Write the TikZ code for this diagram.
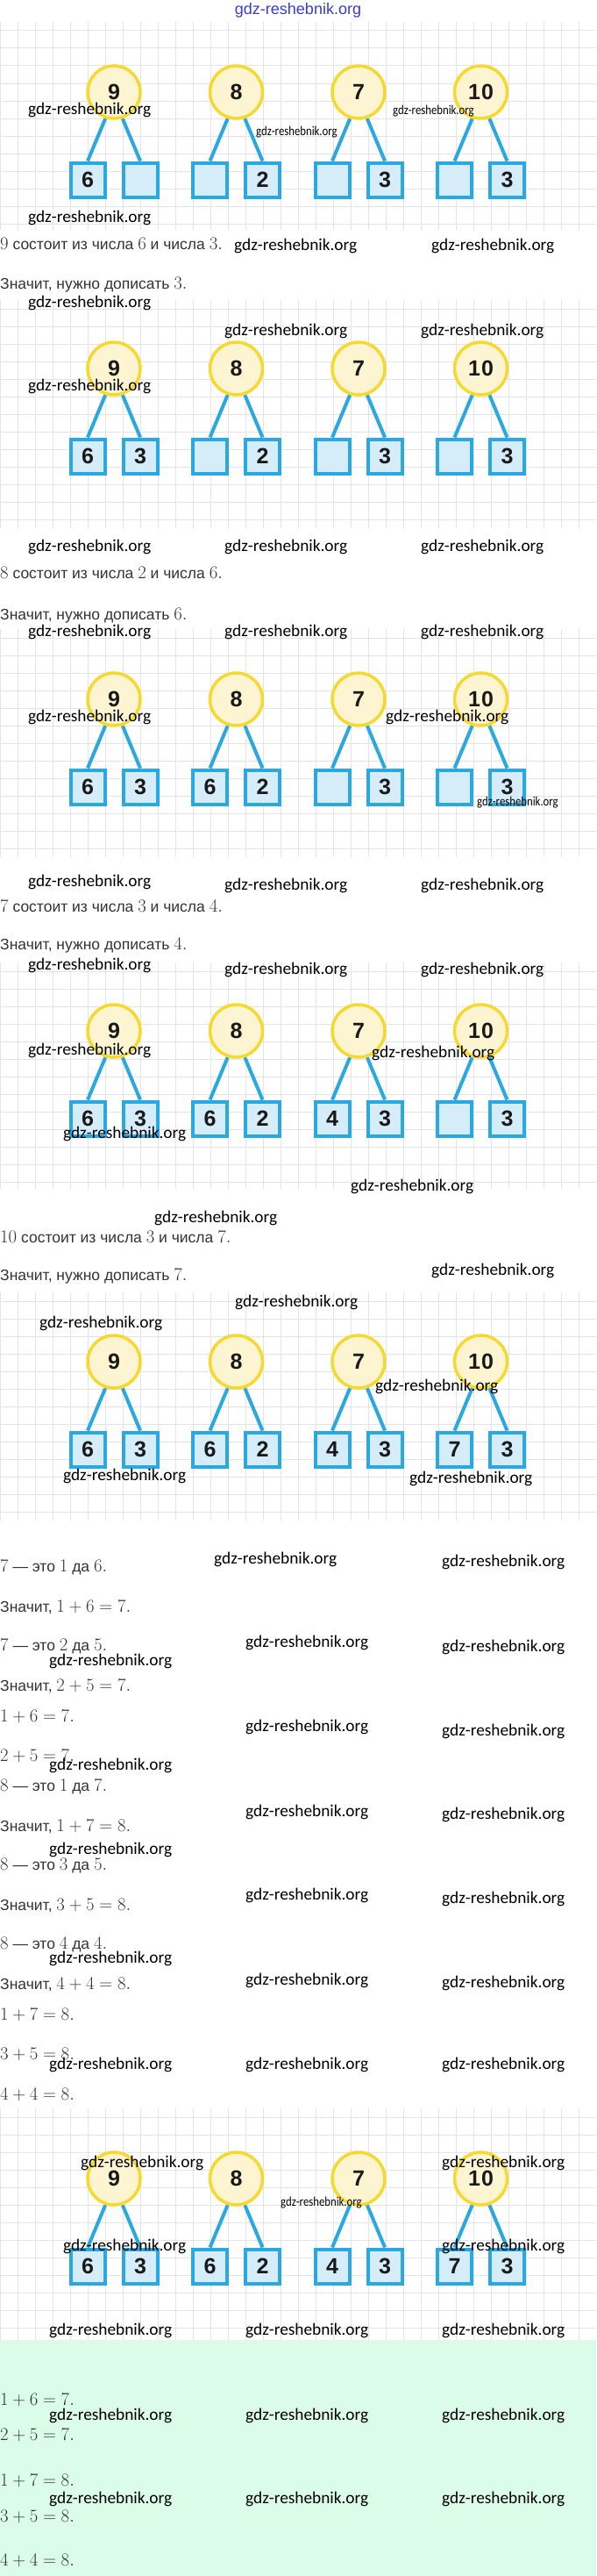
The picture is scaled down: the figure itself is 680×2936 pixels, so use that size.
\documentclass[tikz,border=0pt]{standalone}
\usepackage[no-math]{fontspec}
\setmainfont{Liberation Sans}
\newfontfamily\wmfam{Carlito}
\definecolor{gridc}{HTML}{E4E4E4}
\definecolor{ringc}{HTML}{F6D82E}
\definecolor{ringfill}{HTML}{FDF5D2}
\definecolor{boxc}{HTML}{2AA8E2}
\definecolor{boxfill}{HTML}{D5ECF9}
\definecolor{txtc}{HTML}{333333}
\definecolor{hdrc}{HTML}{3A3AD8}
\definecolor{mint}{HTML}{DCFCEA}
\pgfdeclarelayer{gridlayer}
\pgfdeclarelayer{linklayer}
\pgfsetlayers{gridlayer,linklayer,main}
\tikzset{
 numcirc/.style={circle, draw=ringc, fill=ringfill, line width=3.5pt, minimum size=60pt, inner sep=0pt, font=\fontsize{25}{25}\selectfont\bfseries, text=black!90},
 numbox/.style={rectangle, draw=boxc, fill=boxfill, line width=4pt, minimum size=39pt, inner sep=0pt, font=\fontsize{25}{25}\selectfont\bfseries, text=black!90},
 link/.style={draw=boxc, line width=4pt},
 gridline/.style={draw=gridc, line width=1pt},
 txt/.style={anchor=west, inner sep=0pt, text=txtc, font=\fontsize{17.5}{19}\selectfont},
 wm/.style={anchor=west, inner sep=0pt, text=black, font=\wmfam\fontsize{19.3}{20}\selectfont},
 wms/.style={anchor=west, inner sep=0pt, text=black, font=\wmfam\fontsize{15}{16}\selectfont},
}
\newcommand\m[1]{{\fontsize{20.74}{22}\selectfont$#1$}}
\newcommand\tree[6]{%
 \node[numcirc] (#1c) at (#2,#3) {#4};
 \node[numbox] (#1l) at ({#2-30},{#3+100}) {#5};
 \node[numbox] (#1r) at ({#2+30},{#3+100}) {#6};
 \begin{pgfonlayer}{linklayer}
 \draw[link] (#1c.-108) -- (#1l.north);
 \draw[link] (#1c.-72) -- (#1r.north);
 \end{pgfonlayer}}
\newcommand\gridpanel[2]{%
 \begin{pgfonlayer}{gridlayer}
 \begin{scope}
 \clip (0,#1) rectangle (680,#2);
 \foreach \gx in {0,20,...,680} {\draw[gridline] (\gx,#1) -- (\gx,#2);}
 \foreach \gy in {0,...,14} {\draw[gridline] (0,{#1+10+20*\gy}) -- (680,{#1+10+20*\gy});}
 \end{scope}
 \end{pgfonlayer}}
\newcommand\wsmall[1]{\scalebox{0.85}[1]{#1}}
\begin{document}
\begin{tikzpicture}[x=1pt,y=-1pt]
\useasboundingbox (0,0) rectangle (680,2936);
\fill[mint] (0,2667) rectangle (680,2936);
\gridpanel{25}{262}
\gridpanel{342}{602}
\gridpanel{717}{977}
\gridpanel{1097}{1355}
\gridpanel{1473}{1733}
\gridpanel{2403}{2667}
\node[font=\fontsize{18}{20}\selectfont, text=hdrc, inner sep=0pt] (hdr) at (340,12) {gdz-reshebnik.org};
% panel 1
\tree{pa}{130}{105}{9}{6}{}
\tree{pb}{269.5}{105}{8}{}{2}
\tree{pc}{409}{105}{7}{}{3}
\tree{pd}{548.5}{105}{1\kern1pt0}{}{3}
% panel 2
\tree{qa}{130}{420}{9}{6}{3}
\tree{qb}{269.5}{420}{8}{}{2}
\tree{qc}{409}{420}{7}{}{3}
\tree{qd}{548.5}{420}{1\kern1pt0}{}{3}
% panel 3
\tree{ra}{130}{797}{9}{6}{3}
\tree{rb}{269.5}{797}{8}{6}{2}
\tree{rc}{409}{797}{7}{}{3}
\tree{rd}{548.5}{797}{1\kern1pt0}{}{3}
% panel 4
\tree{sa}{130}{1175}{9}{6}{3}
\tree{sb}{269.5}{1175}{8}{6}{2}
\tree{sc}{409}{1175}{7}{4}{3}
\tree{sd}{548.5}{1175}{1\kern1pt0}{}{3}
% panel 5
\tree{ua}{130}{1552}{9}{6}{3}
\tree{ub}{269.5}{1552}{8}{6}{2}
\tree{uc}{409}{1552}{7}{4}{3}
\tree{ud}{548.5}{1552}{1\kern1pt0}{7}{3}
% panel 8
\tree{va}{130}{2483}{9}{6}{3}
\tree{vb}{269.5}{2483}{8}{6}{2}
\tree{vc}{409}{2483}{7}{4}{3}
\tree{vd}{548.5}{2483}{1\kern1pt0}{7}{3}
% texts
\node[txt] (t1) at (0,278) {\m{9} состоит из числа \m{6} и числа \m{3.}};
\node[txt] (t2) at (0,325) {Значит, нужно дописать \m{3.}};
\node[txt] (t3) at (0,653) {\m{8} состоит из числа \m{2} и числа \m{6.}};
\node[txt] (t4) at (0,702) {Значит, нужно дописать \m{6.}};
\node[txt] (t5) at (0,1033) {\m{7} состоит из числа \m{3} и числа \m{4.}};
\node[txt] (t6) at (0,1078) {Значит, нужно дописать \m{4.}};
\node[txt] (t7) at (0,1410) {\m{10} состоит из числа \m{3} и числа \m{7.}};
\node[txt] (t8) at (0,1455) {Значит, нужно дописать \m{7.}};
\node[txt] (t9) at (0,1787) {\m{7} — это \m{1} да \m{6.}};
\node[txt] (t10) at (0,1832) {Значит, \m{1+6=7.}};
\node[txt] (t11) at (0,1877) {\m{7} — это \m{2} да \m{5.}};
\node[txt] (t12) at (0,1922) {Значит, \m{2+5=7.}};
\node[txt] (t13) at (0,1956) {\m{1+6=7.}};
\node[txt] (t14) at (0,2001) {\m{2+5=7.}};
\node[txt] (t15) at (0,2037) {\m{8} — это \m{1} да \m{7.}};
\node[txt] (t16) at (0,2082) {Значит, \m{1+7=8.}};
\node[txt] (t17) at (0,2127) {\m{8} — это \m{3} да \m{5.}};
\node[txt] (t18) at (0,2172) {Значит, \m{3+5=8.}};
\node[txt] (t19) at (0,2217) {\m{8} — это \m{4} да \m{4.}};
\node[txt] (t20) at (0,2262) {Значит, \m{4+4=8.}};
\node[txt] (t21) at (0,2296) {\m{1+7=8.}};
\node[txt] (t22) at (0,2341) {\m{3+5=8.}};
\node[txt] (t23) at (0,2387) {\m{4+4=8.}};
\node[txt] (t24) at (0,2735) {\m{1+6=7.}};
\node[txt] (t25) at (0,2775) {\m{2+5=7.}};
\node[txt] (t26) at (0,2827) {\m{1+7=8.}};
\node[txt] (t27) at (0,2868) {\m{3+5=8.}};
\node[txt] (t28) at (0,2918) {\m{4+4=8.}};
% watermarks
\node[wm] (w1) at (32,125) {gdz-reshebnik.org};
\node[wms] (w2) at (292,151) {\wsmall{gdz-reshebnik.org}};
\node[wms] (w3) at (448,127) {\wsmall{gdz-reshebnik.org}};
\node[wm] (w4) at (32,248) {gdz-reshebnik.org};
\node[wm] (w5) at (267,280) {gdz-reshebnik.org};
\node[wm] (w6) at (492,280) {gdz-reshebnik.org};
\node[wm] (w7) at (32,345) {gdz-reshebnik.org};
\node[wm] (w8) at (256,377) {gdz-reshebnik.org};
\node[wm] (w9) at (480,377) {gdz-reshebnik.org};
\node[wm] (w10) at (32,440) {gdz-reshebnik.org};
\node[wm] (w11) at (32,623) {gdz-reshebnik.org};
\node[wm] (w12) at (256,623) {gdz-reshebnik.org};
\node[wm] (w13) at (480,623) {gdz-reshebnik.org};
\node[wm] (w14) at (32,720) {gdz-reshebnik.org};
\node[wm] (w15) at (256,720) {gdz-reshebnik.org};
\node[wm] (w16) at (480,720) {gdz-reshebnik.org};
\node[wm] (w17) at (32,817) {gdz-reshebnik.org};
\node[wm] (w18) at (440,817) {gdz-reshebnik.org};
\node[wms] (w19) at (544,915) {\wsmall{gdz-reshebnik.org}};
\node[wm] (w20) at (32,1005) {gdz-reshebnik.org};
\node[wm] (w21) at (256,1009) {gdz-reshebnik.org};
\node[wm] (w22) at (480,1009) {gdz-reshebnik.org};
\node[wm] (w23) at (32,1100) {gdz-reshebnik.org};
\node[wm] (w24) at (256,1105) {gdz-reshebnik.org};
\node[wm] (w25) at (480,1105) {gdz-reshebnik.org};
\node[wm] (w26) at (32,1197) {gdz-reshebnik.org};
\node[wm] (w27) at (424,1200) {gdz-reshebnik.org};
\node[wm] (w28) at (72,1292) {gdz-reshebnik.org};
\node[wm] (w29) at (400,1352) {gdz-reshebnik.org};
\node[wm] (w30) at (176,1388) {gdz-reshebnik.org};
\node[wm] (w31) at (492,1448) {gdz-reshebnik.org};
\node[wm] (w32) at (268,1484) {gdz-reshebnik.org};
\node[wm] (w33) at (45,1508) {gdz-reshebnik.org};
\node[wm] (w34) at (428,1580) {gdz-reshebnik.org};
\node[wm] (w35) at (72,1682) {gdz-reshebnik.org};
\node[wm] (w36) at (467,1685) {gdz-reshebnik.org};
\node[wm] (w37) at (244,1777) {gdz-reshebnik.org};
\node[wm] (w38) at (504,1780) {gdz-reshebnik.org};
\node[wm] (w39) at (280,1872) {gdz-reshebnik.org};
\node[wm] (w40) at (504,1877) {gdz-reshebnik.org};
\node[wm] (w41) at (56,1893) {gdz-reshebnik.org};
\node[wm] (w42) at (280,1968) {gdz-reshebnik.org};
\node[wm] (w43) at (504,1973) {gdz-reshebnik.org};
\node[wm] (w44) at (56,2012) {gdz-reshebnik.org};
\node[wm] (w45) at (280,2065) {gdz-reshebnik.org};
\node[wm] (w46) at (504,2068) {gdz-reshebnik.org};
\node[wm] (w47) at (56,2108) {gdz-reshebnik.org};
\node[wm] (w48) at (280,2160) {gdz-reshebnik.org};
\node[wm] (w49) at (504,2164) {gdz-reshebnik.org};
\node[wm] (w50) at (56,2232) {gdz-reshebnik.org};
\node[wm] (w51) at (280,2257) {gdz-reshebnik.org};
\node[wm] (w52) at (504,2260) {gdz-reshebnik.org};
\node[wm] (w53) at (56,2353) {gdz-reshebnik.org};
\node[wm] (w54) at (280,2353) {gdz-reshebnik.org};
\node[wm] (w55) at (504,2353) {gdz-reshebnik.org};
\node[wm] (w56) at (92,2465) {gdz-reshebnik.org};
\node[wm] (w57) at (504,2465) {gdz-reshebnik.org};
\node[wms] (w58) at (320,2511) {\wsmall{gdz-reshebnik.org}};
\node[wm] (w59) at (72,2560) {gdz-reshebnik.org};
\node[wm] (w60) at (504,2560) {gdz-reshebnik.org};
\node[wm] (w61) at (56,2656) {gdz-reshebnik.org};
\node[wm] (w62) at (280,2656) {gdz-reshebnik.org};
\node[wm] (w63) at (504,2656) {gdz-reshebnik.org};
\node[wm] (w64) at (56,2753) {gdz-reshebnik.org};
\node[wm] (w65) at (280,2753) {gdz-reshebnik.org};
\node[wm] (w66) at (504,2753) {gdz-reshebnik.org};
\node[wm] (w67) at (56,2848) {gdz-reshebnik.org};
\node[wm] (w68) at (280,2848) {gdz-reshebnik.org};
\node[wm] (w69) at (504,2848) {gdz-reshebnik.org};
\end{tikzpicture}
\end{document}
